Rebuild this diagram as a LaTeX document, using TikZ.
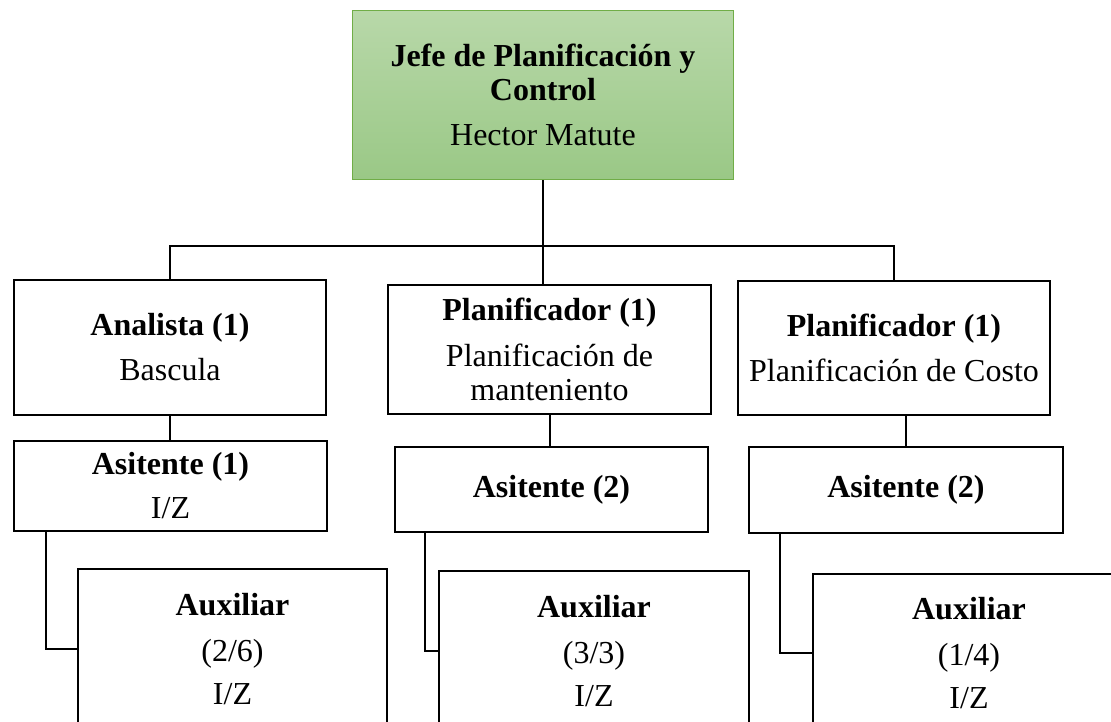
\documentclass[tikz,border=0pt]{standalone}
\usepackage{fontspec}
\setmainfont{Liberation Serif}
\usetikzlibrary{positioning}

\begin{document}
\begin{tikzpicture}[
        x=1pt, y=-1pt,
        every node/.style={draw, line width=2pt, align=center, inner sep=0pt, anchor=north west,
            font=\fontsize{32}{34}\selectfont},
        boss/.style={draw={rgb,255:red,112;green,173;blue,71}, line width=1pt,
            top color={rgb,255:red,184;green,216;blue,169}, bottom color={rgb,255:red,154;green,200;blue,134}},
        link/.style={line width=2pt}
        ]
        \useasboundingbox (0,0) rectangle (1111,721);
        \clip (0,0) rectangle (1111,721);
        % Nodes
        \node (jefe) [boss, minimum width=381pt, minimum height=169pt] at (352,10)
            {\textbf{Jefe de Planificación y}\\\textbf{Control}\\[11pt]Hector Matute};
        \node (analista) [minimum width=312pt, minimum height=135pt] at (13,279)
            {\textbf{Analista (1)}\\[11pt]Bascula};
        \node (planM) [minimum width=323pt, minimum height=129pt] at (387,284)
            {\textbf{Planificador (1)}\\[12pt]Planificación de\\manteniento};
        \node (planC) [minimum width=312pt, minimum height=134pt] at (737,280)
            {\textbf{Planificador (1)}\\[11pt]Planificación de Costo};
        \node (asis1) [minimum width=313pt, minimum height=90pt] at (13,440)
            {\textbf{Asitente (1)}\\[10pt]I/Z};
        \node (asisM) [minimum width=313pt, minimum height=85pt] at (394,446)
            {\textbf{Asitente (2)}};
        \node (asisC) [minimum width=314pt, minimum height=86pt] at (748,446)
            {\textbf{Asitente (2)}};
        \node (auxL) [minimum width=309pt, minimum height=160pt] at (77,568)
            {\textbf{Auxiliar}\\[12pt](2/6)\\[9pt]I/Z};
        \node (auxM) [minimum width=310pt, minimum height=160pt] at (438,570)
            {\textbf{Auxiliar}\\[12pt](3/3)\\[9pt]I/Z};
        \node (auxC) [minimum width=312pt, minimum height=158pt] at (812,573)
            {\textbf{Auxiliar}\\[12pt](1/4)\\[9pt]I/Z};

        % Connectors
        \draw[link] (jefe.south) -- (jefe.south |- planM.north);
        \draw[link] (analista.north) -- ++(0,-33) -| (planC.north);
        \draw[link] (analista.south) -- (analista.south |- asis1.north);
        \draw[link] (planM.south) -- (planM.south |- asisM.north);
        \draw[link] (asisC.north |- planC.south) -- (asisC.north);
        \draw[link] ([xshift=33pt]asis1.south west) |- (auxL.west);
        \draw[link] ([xshift=31pt]asisM.south west) |- (auxM.west);
        \draw[link] ([xshift=32pt]asisC.south west) |- (auxC.west);
    \end{tikzpicture}
\end{document}
